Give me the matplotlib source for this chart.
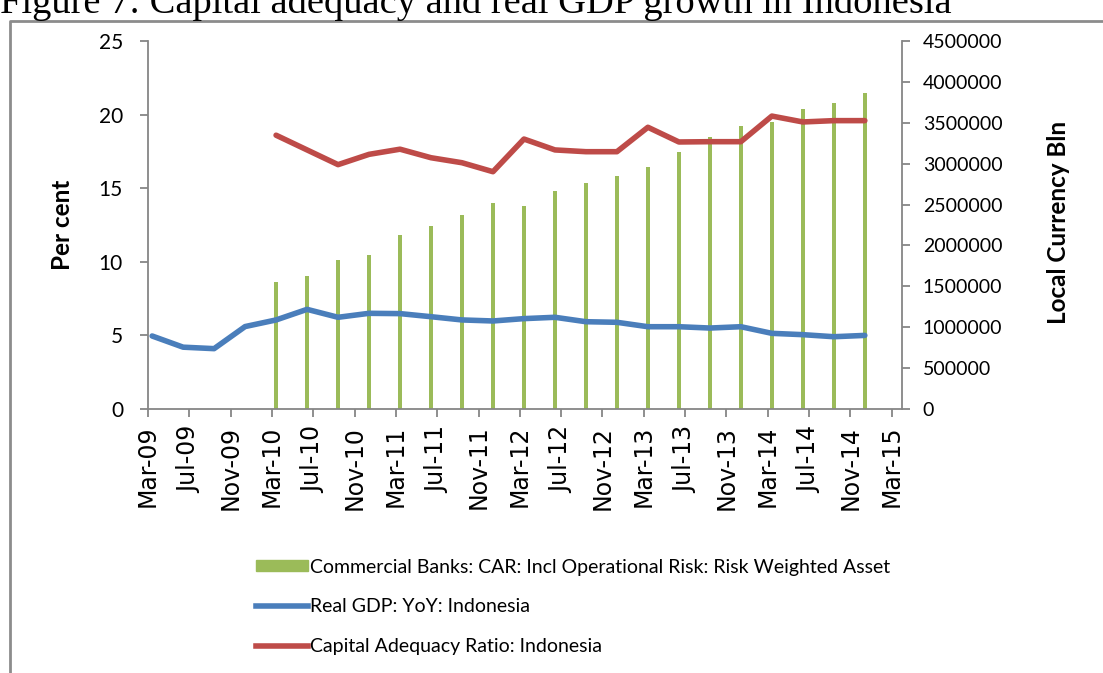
import numpy as np
import matplotlib.pyplot as plt
from matplotlib.lines import Line2D
from matplotlib.patches import Patch

# quarterly observations, Mar-09 .. Dec-14
quarters = ['Mar-09', 'Jun-09', 'Sep-09', 'Dec-09',
            'Mar-10', 'Jun-10', 'Sep-10', 'Dec-10',
            'Mar-11', 'Jun-11', 'Sep-11', 'Dec-11',
            'Mar-12', 'Jun-12', 'Sep-12', 'Dec-12',
            'Mar-13', 'Jun-13', 'Sep-13', 'Dec-13',
            'Mar-14', 'Jun-14', 'Sep-14', 'Dec-14']

gdp_yoy = [4.96, 4.2, 4.1, 5.6,
           6.05, 6.77, 6.23, 6.5,
           6.48, 6.27, 6.05, 5.98,
           6.14, 6.23, 5.93, 5.89,
           5.59, 5.59, 5.5, 5.59,
           5.14, 5.05, 4.91, 5.0]

# CAR and risk weighted assets start in Mar-10
car = [np.nan, np.nan, np.nan, np.nan,
       18.6, 17.6, 16.6, 17.3,
       17.65, 17.07, 16.73, 16.12,
       18.34, 17.6, 17.48, 17.48,
       19.14, 18.14, 18.16, 18.16,
       19.9, 19.5, 19.59, 19.59]

rwa = [np.nan, np.nan, np.nan, np.nan,
       1556000, 1626000, 1822000, 1883000,
       2127000, 2237000, 2367000, 2514000,
       2482000, 2665000, 2763000, 2848000,
       2962000, 3138000, 3321000, 3460000,
       3504000, 3663000, 3745000, 3863000]

tick_labels = ['Mar-09', 'Jul-09', 'Nov-09', 'Mar-10', 'Jul-10', 'Nov-10',
               'Mar-11', 'Jul-11', 'Nov-11', 'Mar-12', 'Jul-12', 'Nov-12',
               'Mar-13', 'Jul-13', 'Nov-13', 'Mar-14', 'Jul-14', 'Nov-14',
               'Mar-15']

month_names = ['Jan', 'Feb', 'Mar', 'Apr', 'May', 'Jun',
               'Jul', 'Aug', 'Sep', 'Oct', 'Nov', 'Dec']


def months_since_start(label):
    m, y = label.split('-')
    return (int(y) - 9) * 12 + month_names.index(m) - 2


x = np.array([months_since_start(q) for q in quarters]) + 0.4
xt = [months_since_start(t) for t in tick_labels]

plt.rcParams['font.family'] = ['Lato', 'DejaVu Sans']
axis_grey = '#868686'

fig = plt.figure(figsize=(11.03, 6.73), dpi=100)
W, H = 1103, 673

ax = fig.add_axes([148 / W, 1 - 409 / H, (902 - 148) / W, (409 - 41) / H])
ax2 = ax.twinx()

ax2.bar(x, rwa, width=0.4, color='#9BBB59', zorder=2)
ax.plot(x, gdp_yoy, color='#4A7EBB', lw=4, solid_joinstyle='round', solid_capstyle='round')
ax.plot(x, car, color='#BE4B48', lw=4, solid_joinstyle='round', solid_capstyle='round')

ax.set_zorder(ax2.get_zorder() + 1)
ax.patch.set_visible(False)

ax.set_xlim(0, 73)
ax.set_ylim(0, 25)
ax.set_yticks(range(0, 26, 5))
ax2.set_ylim(0, 4500000)
ax2.set_yticks(range(0, 4500001, 500000))
ax2.set_yticklabels([str(v) for v in range(0, 4500001, 500000)])

ax.set_xticks(xt)
ax.set_xticklabels(tick_labels, rotation=90, family='DejaVu Sans', fontsize=17)

for a in (ax, ax2):
    for s in a.spines.values():
        s.set_visible(False)
    a.tick_params(colors=axis_grey, labelcolor='black', length=6, width=1.3)
    a.tick_params(axis='y', labelsize=15)
ax.spines['left'].set_visible(True)
ax.spines['bottom'].set_visible(True)
ax2.spines['right'].set_visible(True)
for s in (ax.spines['left'], ax.spines['bottom'], ax2.spines['right']):
    s.set_color(axis_grey)
    s.set_linewidth(1.3)
ax.tick_params(axis='y', pad=12)
ax.tick_params(axis='x', pad=6)
ax2.tick_params(axis='y', pad=9)
for t in ax2.get_yticklabels():
    t.set_fontsize(14)

fig.text(62 / W, 1 - 225 / H, 'Per cent', rotation=90, fontsize=17.5,
         fontweight='bold', ha='center', va='center')
fig.text(1058 / W, 1 - 222 / H, 'Local Currency Bln', rotation=90, fontsize=17.5,
         fontweight='bold', ha='center', va='center')

handles = [Patch(color='#9BBB59'),
           Line2D([], [], color='#4A7EBB', lw=4),
           Line2D([], [], color='#BE4B48', lw=4)]
labels = ['Commercial Banks: CAR: Incl Operational Risk: Risk Weighted Asset',
          'Real GDP: YoY: Indonesia',
          'Capital Adequacy Ratio: Indonesia']
fig.legend(handles, labels, loc='upper left', bbox_to_anchor=(238 / W, 1 - 541 / H),
           frameon=False, fontsize=14, handlelength=2.7, handleheight=0.5,
           handletextpad=0.1, labelspacing=1.18)

# chart frame and page heading
fig.add_artist(Line2D([10 / W, 10 / W, 1], [0, 1 - 21 / H, 1 - 21 / H],
                      transform=fig.transFigure, color='#8c8c8c', lw=2))
fig.text(0, 1 - 13 / H, 'Figure 7: Capital adequacy and real GDP growth in Indonesia',
         family='Liberation Serif', fontsize=27.7, ha='left', va='baseline')

fig.savefig('out.png', dpi=100)
